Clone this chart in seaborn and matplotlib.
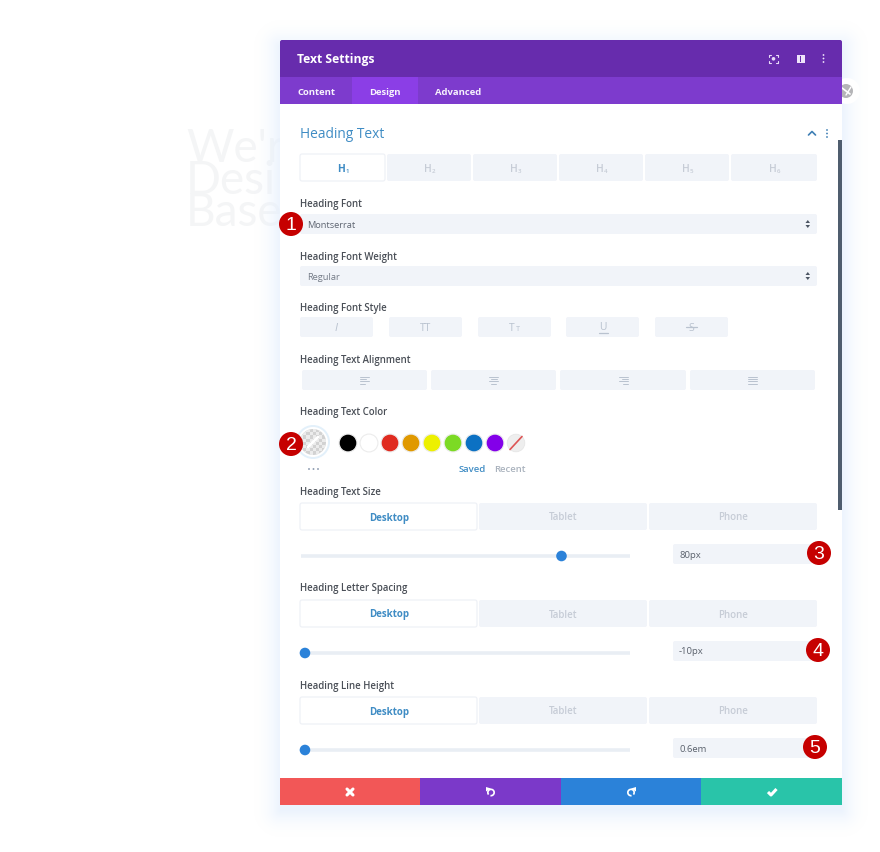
import matplotlib
matplotlib.use("Agg")
import matplotlib.pyplot as plt
import numpy as np
import seaborn as sns
import pandas as pd
from matplotlib.patches import FancyBboxPatch, Rectangle, Circle, Wedge

# -------------------- Content --------------------
tabs = ["Content", "Design", "Advanced"]
heading_levels = ["H1", "H2", "H3", "H4", "H5", "H6"]
devices = ["Desktop", "Tablet", "Phone"]
slider_labels = ["Heading Text Size", "Heading Letter Spacing", "Heading Line Height"]
slider_values = ["80px", "-10px", "0.6em"]
slider_handles = [0.79, 0.015, 0.015]
swatch_colors = ["#000000", "#ffffff", "#e02b20", "#e09900", "#edf000",
                 "#7cda24", "#0c71c3", "#8300e9"]
footer_colors = ["#f25757", "#7b39c9", "#2b82d9", "#29c4a9"]
badges = ["1", "2", "3", "4", "5"]

# -------------------- Colours --------------------
PURPLE_DARK = "#672cad"
PURPLE = "#7d3bcd"
PURPLE_ACTIVE = "#8b3ee6"
FIELD = "#f1f4f9"
LABEL = "#4a4f57"
BLUE_TEXT = "#3f8cc4"
MUTED = "#c6ccd6"
ICON = "#b9c2cf"

sns.set_theme(style="white")
plt.rcParams["font.family"] = ["Open Sans", "DejaVu Sans"]

fig = plt.figure(figsize=(8.8, 8.53), dpi=100, facecolor="white")
ax = fig.add_axes([0, 0, 1, 1])
ax.set_xlim(0, 880)
ax.set_ylim(852, -1)
ax.axis("off")


def box(x0, y0, x1, y1, color, r=2, z=3, ec="none", lw=0):
    p = FancyBboxPatch((x0 + r, y0 + r), x1 - x0 - 2 * r, y1 - y0 - 2 * r,
                       boxstyle=f"round,pad={r},rounding_size={r}",
                       fc=color, ec=ec, lw=lw, zorder=z)
    ax.add_patch(p)


def rect(x0, y0, x1, y1, color, z=3):
    ax.add_patch(Rectangle((x0, y0), x1 - x0, y1 - y0, fc=color, ec="none", zorder=z))


def label(x, y, s, size=6.9, color=LABEL, weight="semibold", ha="left", z=6, **kw):
    ax.text(x, y, s, fontsize=size, color=color, fontweight=weight, ha=ha,
            va="center", zorder=z, **kw)


def stroke(xs, ys, color, lw=1.0, z=6):
    ax.plot(xs, ys, color=color, lw=lw, zorder=z, solid_capstyle="round")


# Ghost heading behind the panel
ax.text(186, 180, "We'r\nDesi\nBase", fontsize=33, color="#f4f5f6", family="Lato",
        fontweight="normal", va="center", ha="left", linespacing=0.72, zorder=1)

# Soft shadow around the panel (painted as an image so it fades smoothly)
px, py = np.meshgrid(np.arange(880) + 0.5, np.arange(853) + 0.5)
dx = np.maximum(np.maximum(280 - px, px - 842), 0)
dy = np.maximum(np.maximum(46 - py, py - 811), 0)
fade = np.clip(1 - np.hypot(dx, dy) / 28, 0, 1) ** 2
shadow = np.zeros((853, 880, 4))
shadow[..., :3] = matplotlib.colors.to_rgb("#e6f0fd")
shadow[..., 3] = fade * 0.75
ax.imshow(shadow, extent=(0, 880, 853, 0), aspect="auto", interpolation="bilinear", zorder=2)

# Share button poking out at the right
ax.add_patch(Circle((847, 91), 13, fc="white", ec="none", zorder=2.5))
ax.add_patch(Circle((846, 91), 7, fc="#b5b5b8", ec="none", zorder=2.6))
stroke([842, 850], [88, 94], "white", 1.2, 2.7)
stroke([846, 851], [95, 87], "white", 1.0, 2.7)

# Panel body
box(280, 40, 842, 805, "white", r=2, z=3)
rect(280, 42, 842, 77, PURPLE_DARK, z=3.1)
box(280, 40, 842, 60, PURPLE_DARK, r=2, z=3.1)
rect(280, 77, 842, 104, PURPLE, z=3.1)
rect(352, 77, 418, 104, PURPLE_ACTIVE, z=3.2)

label(297, 58, "Text Settings", size=8.7, color="white", weight="bold")
for xx, name in zip([297, 369, 435], tabs):
    label(xx, 91, name, size=6.8, color="#f7f2fd", weight="bold")

# Header icons
for cx, sx in [(769, 1), (778, -1)]:
    for cy, sy in [(54.5, 1), (63, -1)]:
        stroke([cx + sx * 2.2, cx, cx], [cy, cy, cy + sy * 2.2], "#e9dcf8", 0.8)
ax.add_patch(Circle((773.5, 58.8), 1.8, fc="#e9dcf8", ec="none", zorder=6))
ax.add_patch(Rectangle((796.5, 54.5), 8.5, 8.5, fc="#eee4fa", ec="none", zorder=6))
rect(799.5, 56, 800.5, 61.5, PURPLE_DARK, z=6.1)
for yy in [55, 58.5, 62]:
    ax.add_patch(Circle((823.5, yy), 0.9, fc="#eee4fa", ec="none", zorder=6))

# Section heading
label(300, 133, "Heading Text", size=9.9, color=BLUE_TEXT, weight="normal")
stroke([808.5, 812, 815.5], [135, 131.5, 135], "#3f7fb5", 1.2)
for yy in [130, 133.5, 137]:
    ax.add_patch(Circle((827, yy), 0.9, fc="#3f7fb5", ec="none", zorder=6))

# Scrollbar
rect(838, 140, 842, 510, "#4f5d6e", z=4)

# H1-H6 tabs
h_edges = [(300, 385), (387, 471), (473, 557), (559, 643), (645, 729), (731, 817)]
for i, ((x0, x1), name) in enumerate(zip(h_edges, heading_levels)):
    active = i == 0
    box(x0, 154, x1, 181, "white" if active else FIELD, z=4,
        ec="#edf0f5" if active else "none", lw=0.8 if active else 0)
    cx = (x0 + x1) / 2
    col = BLUE_TEXT if active else MUTED
    label(cx - 1.5, 168.5, name[0], size=7.4, color=col, weight="bold" if active else "semibold", ha="center")
    label(cx + 4.5, 170, name[1], size=4.4, color=col, ha="center")

# Selects
label(300, 203, "Heading Font")
box(300, 214, 817, 234, FIELD, z=4)
label(307, 224, "Montserrat", size=6.7, color="#5f6672", weight="normal")
label(300, 256, "Heading Font Weight")
box(300, 266, 817, 286, FIELD, z=4)
label(307, 276, "Regular", size=6.7, color="#747b87", weight="normal")
for yy in [224, 276]:
    ax.fill([805.5, 807.8, 810], [yy - 1, yy - 4, yy - 1], color="#4c5563", zorder=6, lw=0)
    ax.fill([805.5, 807.8, 810], [yy + 1, yy + 4, yy + 1], color="#4c5563", zorder=6, lw=0)

# Font style buttons
label(300, 307, "Heading Font Style")
style_edges = [(300, 373), (389, 462), (478, 551), (566, 639), (655, 728)]
for x0, x1 in style_edges:
    box(x0, 317, x1, 337, FIELD, z=4)
label(336.5, 327, "I", size=8, color=ICON, weight="normal", ha="center", style="italic")
label(425.5, 327, "TT", size=7.5, color=ICON, weight="normal", ha="center")
label(512, 327, "T", size=7.5, color=ICON, weight="normal", ha="center")
label(517.5, 328, "T", size=5.2, color=ICON, weight="normal", ha="center")
label(603, 326.5, "U", size=7.5, color=ICON, weight="normal", ha="center")
stroke([598.5, 607.5], [333, 333], ICON, 0.9)
label(691.5, 327, "S", size=7.5, color=ICON, weight="normal", ha="center")
stroke([686, 697], [327, 327], ICON, 0.9)

# Alignment buttons
label(300, 359, "Heading Text Alignment")
align_edges = [(302, 427), (431, 556), (560, 686), (690, 815)]
align_rows = [[(0, 9), (0, 6), (0, 9), (0, 5)], [(0, 9), (1.5, 7.5), (0, 9), (2, 7)],
              [(0, 9), (3, 9), (0, 9), (4, 9)], [(0, 9), (0, 9), (0, 9), (0, 9)]]
for (x0, x1), rows in zip(align_edges, align_rows):
    box(x0, 370, x1, 390, FIELD, z=4)
    cx = (x0 + x1) / 2 - 4.5
    for j, (a, b) in enumerate(rows):
        stroke([cx + a, cx + b], [376.5 + j * 2.4, 376.5 + j * 2.4], ICON, 0.7)

# Colour picker
label(300, 411, "Heading Text Color")
ax.add_patch(Circle((313, 442), 17, fc="#e3f0fa", ec="none", zorder=4))
ax.add_patch(Circle((313, 442), 15, fc="white", ec="none", zorder=4.1))
clip = Circle((313, 442), 13, fc="#d2d2d2", ec="none", zorder=4.2)
ax.add_patch(clip)
for i in range(9):
    for j in range(9):
        if (i + j) % 2 == 0:
            r = Rectangle((300 + i * 3.2, 429 + j * 3.2), 3.2, 3.2, fc="#ececec", ec="none", zorder=4.3)
            ax.add_patch(r)
            r.set_clip_path(clip)
stroke([308, 318], [447, 437], "white", 2.0, 4.5)

swatch_df = pd.DataFrame({"x": [348 + 21 * i for i in range(len(swatch_colors))],
                          "y": [443] * len(swatch_colors), "c": swatch_colors})
sns.scatterplot(data=swatch_df, x="x", y="y", hue="c", palette=dict(zip(swatch_colors, swatch_colors)),
                s=165, linewidth=0.8, edgecolor="#ececec", legend=False, ax=ax, zorder=5)
# "no colour" swatch
ax.add_patch(Circle((516, 443), 8.8, fc="#eeeeee", ec="#e6e6e6", lw=0.6, zorder=5))
stroke([510, 522], [449.5, 436.5], "#dd5555", 1.2)

for xx in [309, 313.5, 318]:
    ax.add_patch(Circle((xx, 469), 0.95, fc="#8d9bb0", ec="none", zorder=6))
label(472.5, 468, "Saved", size=6.8, color=BLUE_TEXT, ha="center")
label(510, 468, "Recent", size=6.8, color="#a9b2bd", ha="center")

# Slider blocks
block_tops = [491, 588, 685]
for top, name, val, handle in zip(block_tops, slider_labels, slider_values, slider_handles):
    label(300, top, name)
    box(300, top + 12, 477, top + 39, "white", z=4, ec="#edf0f5", lw=0.8)
    box(479, top + 12, 647, top + 39, FIELD, z=4)
    box(649, top + 12, 817, top + 39, FIELD, z=4)
    for cx, dev, col in zip([389, 563, 733], devices, [BLUE_TEXT, MUTED, MUTED]):
        label(cx, top + 26, dev, size=7.0, color=col, weight="bold" if col == BLUE_TEXT else "semibold", ha="center")
    ty = top + 65
    track = pd.DataFrame({"x": [301, 630], "y": [ty, ty]})
    sns.lineplot(data=track, x="x", y="y", color="#e9eef4", lw=2.6, ax=ax, zorder=5,
                 solid_capstyle="butt", errorbar=None)
    hx = 300 + handle * 331
    ax.add_patch(Circle((hx, ty), 5.3, fc="#2b82d9", ec="none", zorder=6))
    box(673, top + 53, 812, top + 73, FIELD, z=4)
    label(679, top + 63, val, size=6.8, color="#5a616c", weight="normal")

# Footer buttons
foot_edges = [280, 420, 561, 701, 842]
for i, col in enumerate(footer_colors):
    rect(foot_edges[i], 778, foot_edges[i + 1], 805, col, z=5)
stroke([347, 353], [789, 795], "white", 2.2)
stroke([353, 347], [789, 795], "white", 2.2)
ax.add_patch(Wedge((491, 792.5), 4, -220, 100, width=1.7, fc="white", ec="none", zorder=6))
ax.fill([486, 491, 486], [787, 788.5, 791.5], color="white", zorder=6, lw=0)
ax.add_patch(Wedge((631, 792.5), 4, 80, 400, width=1.7, fc="white", ec="none", zorder=6))
ax.fill([636, 631, 636], [787, 788.5, 791.5], color="white", zorder=6, lw=0)
ax.plot([768, 771, 776.5], [792, 795, 789], color="white", lw=2.2, zorder=6, solid_capstyle="butt")

# Numbered badges
badge_xy = [(291, 224), (291, 444), (819, 553), (818, 650), (815, 747)]
for (bx, by), n in zip(badge_xy, badges):
    ax.add_patch(Circle((bx, by), 12, fc="#c60000", ec="none", zorder=7))
    ax.text(bx, by + 0.5, n, fontsize=14, color="white", family="Liberation Sans",
            ha="center", va="center", zorder=8)

ax.set_xlabel("")
ax.set_ylabel("")
ax.set_xlim(0, 880)
ax.set_ylim(852, -1)
fig.savefig("out.png", dpi=100)
